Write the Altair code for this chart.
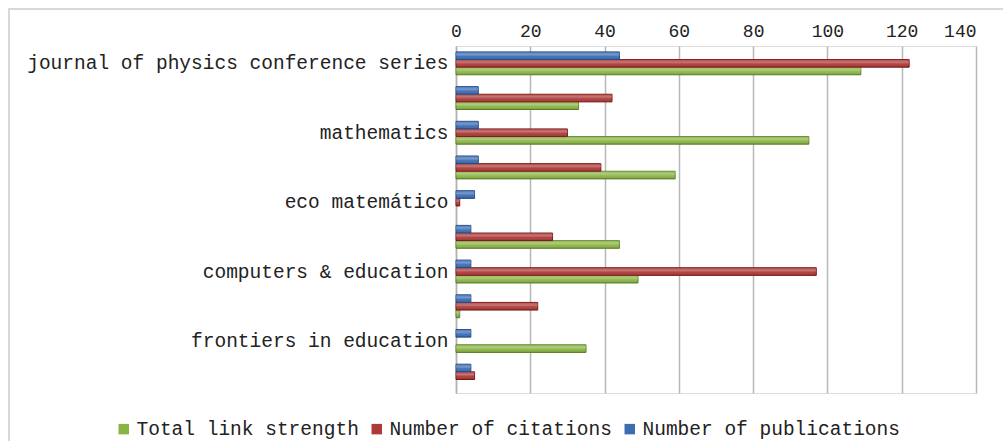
import altair as alt
import pandas as pd

journals = [
    "journal of physics conference series",
    "source 2",
    "mathematics",
    "source 4",
    "eco matemático",
    "source 6",
    "computers & education",
    "source 8",
    "frontiers in education",
    "source 10",
]
shown_labels = [
    "journal of physics conference series",
    "mathematics",
    "eco matemático",
    "computers & education",
    "frontiers in education",
]
total_link_strength = [109, 33, 95, 59, 0, 44, 49, 1, 35, 0]
number_of_citations = [122, 42, 30, 39, 1, 26, 97, 22, 0, 5]
number_of_publications = [44, 6, 6, 6, 5, 4, 4, 4, 4, 4]

series_names = ["Total link strength", "Number of citations", "Number of publications"]
offset_order = ["Number of publications", "Number of citations", "Total link strength"]
fill_colors = ["#8ab545", "#ad3a38", "#3c6db3"]
stroke_colors = ["#5f8428", "#7a1414", "#1f4c8a"]
x_ticks = [0, 20, 40, 60, 80, 100, 120, 140]

rows = []
for i, j in enumerate(journals):
    for s, vals in zip(series_names, [total_link_strength, number_of_citations, number_of_publications]):
        rows.append({"journal": j, "series": s, "value": vals[i]})
df = pd.DataFrame(rows)

label_list = "[" + ",".join("'" + s + "'" for s in shown_labels) + "]"

y_enc = alt.Y(
    "journal:N",
    sort=journals,
    scale=alt.Scale(paddingInner=0.34, paddingOuter=0.17),
    axis=alt.Axis(
        title=None,
        ticks=False,
        labelPadding=8,
        labelLimit=600,
        labelFont="Liberation Mono",
        labelFontSize=19.5,
        labelColor="#222222",
        domainColor="#b3b3b3",
        domainWidth=1.5,
        labelExpr="indexof(" + label_list + ", datum.value) >= 0 ? datum.value : ''",
    ),
)
yoff_enc = alt.YOffset("series:N", sort=offset_order, scale=alt.Scale(domain=offset_order))
x_enc = alt.X(
    "value:Q",
    scale=alt.Scale(domain=[0, 140], nice=False),
    axis=alt.Axis(
        orient="top",
        title=None,
        values=x_ticks,
        ticks=False,
        domain=False,
        labelFlush=False,
        labelAlign=alt.ExprRef("datum.value == 140 ? 'right' : 'center'"),
        labelPadding=6,
        labelFont="Liberation Mono",
        labelFontSize=18,
        labelColor="#222222",
        gridColor="#b8b8b8",
        gridWidth=1.5,
    ),
)

base = alt.Chart(df).transform_filter("datum.value > 0")

bars = base.mark_bar(strokeWidth=1).encode(
    y=y_enc,
    yOffset=yoff_enc,
    x=x_enc,
    color=alt.Color(
        "series:N",
        scale=alt.Scale(domain=series_names, range=fill_colors),
        legend=alt.Legend(
            title=None,
            orient="none",
            direction="horizontal",
            legendX=-342,
            legendY=373,
            symbolType="square",
            symbolSize=110,
            symbolStrokeWidth=0,
            labelFont="Liberation Mono",
            labelFontSize=19.5,
            labelLimit=600,
            labelColor="#222222",
            columnPadding=8,
            labelOffset=3,
        ),
    ),
    stroke=alt.Stroke(
        "series:N",
        scale=alt.Scale(domain=series_names, range=stroke_colors),
        legend=None,
    ),
)

shine = base.mark_bar(
    color={
        "gradient": "linear",
        "x1": 0, "y1": 0, "x2": 0, "y2": 1,
        "stops": [
            {"offset": 0, "color": "rgba(255,255,255,0.10)"},
            {"offset": 0.35, "color": "rgba(255,255,255,0.30)"},
            {"offset": 0.6, "color": "rgba(255,255,255,0.05)"},
            {"offset": 1, "color": "rgba(0,0,0,0.15)"},
        ],
    },
    strokeWidth=0,
).encode(y=y_enc, yOffset=yoff_enc, x=x_enc)

frame = alt.Chart(pd.DataFrame({"k": [0]})).mark_rect(
    fill=None, stroke="#cccccc", strokeWidth=1.5
).encode(
    x=alt.value(-447),
    x2=alt.value(1200),
    y=alt.value(-37),
    y2=alt.value(600),
)

chart = alt.layer(frame, bars, shine).properties(
    width=520,
    height=347,
    padding={"left": 456, "top": 46, "right": 27, "bottom": 48},
    autosize=alt.AutoSizeParams(type="none"),
).configure_view(stroke=None).configure(background="white")

chart.save("out.html", embed_options={"renderer": "svg", "actions": False})
